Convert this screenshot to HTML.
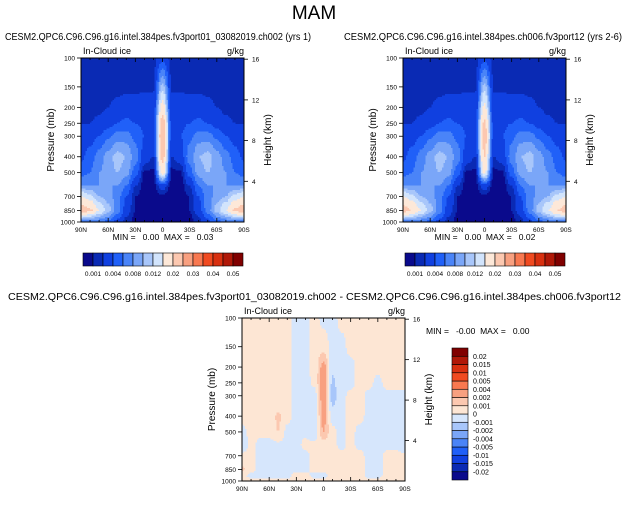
<!DOCTYPE html>
<html><head><meta charset="utf-8"><style>
html,body{margin:0;padding:0;background:#fff;}
svg text{font-family:"Liberation Sans",sans-serif;fill:#000;white-space:pre;}
</style></head><body>
<svg id="chart" width="628" height="500" xmlns="http://www.w3.org/2000/svg">
<text x="314" y="19" font-size="19" text-anchor="middle">MAM</text>
<text x="5" y="40" font-size="10" textLength="306" lengthAdjust="spacingAndGlyphs">CESM2.QPC6.C96.C96.g16.intel.384pes.fv3port01_03082019.ch002 (yrs 1)</text>
<text x="344" y="40" font-size="10" textLength="278" lengthAdjust="spacingAndGlyphs">CESM2.QPC6.C96.C96.g16.intel.384pes.ch006.fv3port12 (yrs 2-6)</text>
<text x="8" y="300" font-size="10" textLength="613" lengthAdjust="spacingAndGlyphs">CESM2.QPC6.C96.C96.g16.intel.384pes.fv3port01_03082019.ch002 - CESM2.QPC6.C96.C96.g16.intel.384pes.ch006.fv3port12</text>
</svg>
<script>
const latLabels = ["90N","60N","30N","0","30S","60S","90S"];
const pLevels = [100,150,200,250,300,400,500,600,700,850,925,1000];
const pTicks = [100,150,200,250,300,400,500,700,850,1000];
const hTicks = [16,12,8,4];
const boundsAbs = [0.001,0.002,0.004,0.006,0.008,0.01,0.012,0.015,0.02,0.025,0.03,0.035,0.04,0.045,0.05];
const colorsAbs = ["#0a0a8c","#0a2ab4","#1040e0","#2060f8","#4a84f8","#7aa6f8","#a8c6fa","#d2e4fc","#fde8d8","#fcc8b0","#f8a080","#f87850","#f04a20","#d83010","#b01808","#800000"];
const labelsAbs = ["0.001","0.004","0.008","0.012","0.02","0.03","0.04","0.05"];
const boundsDiff = [-0.02,-0.015,-0.01,-0.005,-0.004,-0.002,-0.001,0,0.001,0.002,0.004,0.005,0.01,0.015,0.02];
const colorsDiff = ["#0a0a8c","#0a2ab4","#1040e0","#2060f8","#4a84f8","#7aa6f8","#a8c6fa","#d6e6fc","#fde6d4","#fcc8b0","#f8a080","#f87850","#f04a20","#d83010","#b01808","#800000"];
const labelsDiff = ["-0.02","-0.015","-0.01","-0.005","-0.004","-0.002","-0.001","0","0.001","0.002","0.004","0.005","0.01","0.015","0.02"];
// units: 1e-3 g/kg, rows = pLevels, cols = 90N..90S every 10 deg
const field1 = [
[1.5,1.5,1.5,1.5,1.5,1.5,1.5,1.5,1.5,3,1.5,1.5,1.5,1.5,1.5,1.5,1.5,1.5,1.5],
[1.5,1.5,1.5,1.5,1.5,1.5,1.5,1.6,1.8,11,1.8,1.6,1.5,1.5,1.5,1.5,1.5,1.5,1.5],
[1.5,1.5,1.5,2,2.5,3,3,3,2.5,17,2.5,3,3,3,2.5,2,1.5,1.5,1.5],
[2,2,2.5,3,4,4.5,4,3.5,3,23,3,3.5,4,4.5,4,3,2.5,2,2],
[2.5,3,4,5.5,7,7,5.5,4,3,25,3,4,5.5,7,7,5.5,4,3,2.5],
[3.5,5,7,9,11,10,7,3,2,22,2,3,7,10,11,9,7,5,3.5],
[5,6,8,9,10,9,5,0.8,0.6,17,0.6,0.8,5,9,10,9,8,6,5],
[8,8,8,8,8,6,2,0.5,0.5,3,0.5,0.5,2,6,8,8,8,8,8],
[15,13,10,9,7,4,1,0.5,0.5,0.5,0.5,0.5,1,4,7,9,10,13,15],
[24,21,15,11,7,3,1,0.5,0.5,0.5,0.5,0.5,1,3,7,11,15,21,24],
[14,12,10,8,5,2,0.8,0.5,0.5,0.5,0.5,0.5,0.8,2,5,8,10,12,14],
[6,6,6,5,3,1.5,0.5,0.5,0.5,0.5,0.5,0.5,0.5,1.5,3,5,6,6,6]];
const field2 = [
[1.5,1.5,1.5,1.5,1.5,1.5,1.5,1.5,1.5,3,1.5,1.5,1.5,1.5,1.5,1.5,1.5,1.5,1.5],
[1.5,1.5,1.5,1.5,1.5,1.5,1.5,1.6,1.8,11,1.8,1.6,1.5,1.5,1.5,1.5,1.5,1.5,1.5],
[1.5,1.5,1.5,2,2.5,3,3,3,2.5,16,2.5,3,3,3,2.5,2,1.5,1.5,1.5],
[2,2,2.5,3,4,4.5,4,3.5,3,21,3,3.5,4,4.5,4,3,2.5,2,2],
[2.5,3,4,5.5,7,7,5.5,4,3,23,3,4,5.5,7,7,5.5,4,3,2.5],
[3.5,5,7,9,11,10,7,3,2,20,2,3,7,10,11,9,7,5,3.5],
[5,6,8,9,10,9,5,0.8,0.6,16,0.6,0.8,5,9,10,9,8,6,5],
[8,8,8,8,8,6,2,0.5,0.5,3,0.5,0.5,2,6,8,8,8,8,8],
[15,13,10,9,7,4,1,0.5,0.5,0.5,0.5,0.5,1,4,7,9,10,13,15],
[23,20,15,11,7,3,1,0.5,0.5,0.5,0.5,0.5,1,3,7,11,15,20,23],
[14,12,10,8,5,2,0.8,0.5,0.5,0.5,0.5,0.5,0.8,2,5,8,10,12,14],
[6,6,6,5,3,1.5,0.5,0.5,0.5,0.5,0.5,0.5,0.5,1.5,3,5,6,6,6]];
// units: 1e-4 g/kg
const fieldDiff = [
[3,3,3,3,3,3,-3,-3,3,-3,-3,3,3,3,3,3,3,3,3],
[3,3,3,3,3,3,-3,-3,3,5,-3,-3,3,3,3,3,3,3,3],
[3,3,3,3,3,3,-3,-3,3,25,-8,-3,-3,3,3,3,3,3,3],
[3,3,3,3,3,3,-3,-3,2,30,-12,-3,-3,3,3,-3,3,3,3],
[3,3,3,3,3,3,-3,-3,-5,28,-15,-3,3,3,-3,-3,-3,-3,-3],
[3,3,3,3,12,3,-3,-3,-8,25,-5,-3,3,3,-3,-3,-3,-3,-3],
[-3,3,3,3,10,-3,-3,-3,-8,20,3,-3,3,-3,-3,-3,-3,-3,-3],
[-8,3,-3,-3,-3,-3,-3,3,3,3,3,-3,3,-3,-3,-3,-3,-3,-8],
[3,3,-3,-3,-3,-3,-8,-3,3,3,3,3,3,3,-3,-3,3,3,3],
[12,3,-3,-3,-3,-3,-3,-3,3,3,3,3,3,3,-3,-3,3,3,3],
[3,-3,-3,-3,-3,-3,3,3,-3,-3,3,3,3,3,-3,-3,3,3,3],
[3,3,3,3,3,3,3,3,3,3,3,3,3,3,3,3,3,10,3]];
const stats1 = ["0.00","0.03"], stats2 = ["0.00","0.02"], stats3 = ["-0.00","0.00"];

const NS="http://www.w3.org/2000/svg";
const svg=document.getElementById('chart');
function mk(tag,attrs,parent){const e=document.createElementNS(NS,tag);for(const k in attrs)e.setAttribute(k,attrs[k]);(parent||svg).appendChild(e);return e;}
function txt(x,y,s,size,anchor,parent,extra){const t=mk('text',Object.assign({x:x,y:y,'font-size':size,'text-anchor':anchor||'start'},extra||{}),parent);t.textContent=s;return t;}

function drawPanel(P){
  const g=mk('g',{});
  
  
  const yOf=p=>P.y0+(Math.log10(p)-2)*P.h;
  const lp=pLevels.map(p=>Math.log10(p));
  function val(u,lg){
    u=Math.max(0,Math.min(18,u));
    let i=Math.min(17,Math.floor(u)),fu=u-i;
    fu=fu*fu*(3-2*fu);
    let r=0;while(r<pLevels.length-2&&lg>lp[r+1])r++;
    let fr=Math.max(0,Math.min(1,(lg-lp[r])/(lp[r+1]-lp[r])));
    const d=P.data;
    const a=d[r][i]*(1-fu)+d[r][i+1]*fu, b=d[r+1][i]*(1-fu)+d[r+1][i+1]*fu;
    return (a*(1-fr)+b*fr)*P.scale;
  }
  function cidx(v){let k=0;while(k<P.bounds.length&&v>=P.bounds[k])k++;return k;}
  const step=1.5;
  const cells=mk('g',{'shape-rendering':'crispEdges'},g);
  
  
  for(let y=0;y<P.h;y+=step){
    const lg=2+Math.min(1,(y+step/2)/P.h);
    const hh=Math.min(step,P.h-y);
    let runStart=0,runC=-1;
    for(let x=0;;x+=step){
      const done=x>=P.w;
      const c=done?-2:cidx(val((x+step/2)/P.w*18,lg));
      if(c!==runC){
        if(runC>=0){const r=mk('rect',{x:P.x0+runStart,y:P.y0+y,width:Math.min(x,P.w)-runStart+0.6,height:hh+0.6,fill:P.colors[runC]},cells);
          
          }
        runStart=x;runC=c;
      }
      if(done)break;
    }
  }
  const fr=mk('rect',{x:P.x0,y:P.y0,width:P.w,height:P.h,fill:'none',stroke:'#000','stroke-width':1},g);
  
  
  for(let k=0;k<=18;k++){
    const x=P.x0+k/18*P.w, L=(k%3===0)?4:2;
    mk('line',{x1:x,x2:x,y1:P.y0+P.h,y2:P.y0+P.h-L,stroke:'#000','stroke-width':0.8},g);
    mk('line',{x1:x,x2:x,y1:P.y0,y2:P.y0+L,stroke:'#000','stroke-width':0.8},g);
  }
  latLabels.forEach((s,k)=>{const t=txt(P.x0+k/6*P.w,P.y0+P.h+10,s,6.5,'middle',g);
    });
  pTicks.forEach(p=>{const y=yOf(p);
    mk('line',{x1:P.x0,x2:P.x0-4,y1:y,y2:y,stroke:'#000','stroke-width':0.8},g);
    const t=txt(P.x0-6,y+2.5,String(p),6.5,'end',g);
    });
  hTicks.forEach(hk=>{const p=1000*Math.exp(-hk/7);const y=yOf(p);
    mk('line',{x1:P.x0+P.w,x2:P.x0+P.w+4,y1:y,y2:y,stroke:'#000','stroke-width':0.8},g);
    const t=txt(P.x0+P.w+8,y+2.5,String(hk),6.5,'start',g);
    });
  const a=txt(P.x0+2,P.y0-4,'In-Cloud ice',9,'start',g);
  const b=txt(P.x0+P.w,P.y0-4,'g/kg',9,'end',g);
  const yl=txt(0,0,'Pressure (mb)',10,'middle',g,{transform:`translate(${P.x0-27},${P.y0+P.h/2}) rotate(-90)`});
  
  const yr=txt(0,0,'Height (km)',10,'middle',g,{transform:`translate(${P.x0+P.w+27},${P.y0+P.h/2}) rotate(-90)`});
  
  const st=txt(P.sx,P.sy,`MIN =   ${P.stats[0]}  MAX =   ${P.stats[1]}`,8.5,P.sa,g);
  
}
function hbar(x0,y0,w,h,colors,labels){
  const g=mk('g',{});
  
  
  const bw=w/colors.length;
  colors.forEach((c,k)=>{const r=mk('rect',{x:x0+k*bw,y:y0,width:bw,height:h,fill:c,stroke:'#000','stroke-width':0.6},g);
    });
  labels.forEach((s,k)=>{const t=txt(x0+(2*k+1)*bw,y0+h+10,s,6.5,'middle',g);
    });
}
function vbar(x0,y0,w,h,colors,labels){
  const g=mk('g',{});
  
  
  const bh=h/colors.length;
  colors.forEach((c,k)=>{const r=mk('rect',{x:x0,y:y0+h-(k+1)*bh,width:w,height:bh,fill:c,stroke:'#000','stroke-width':0.6},g);
    });
  labels.forEach((s,k)=>{const t=txt(x0+w+5,y0+h-(k+1)*bh+2.5,s,7,'start',g);
    });
}
drawPanel({name:'panel-model1',x0:81,y0:58,w:163,h:164,data:field1,scale:0.001,bounds:boundsAbs,colors:colorsAbs,stats:stats1,sx:163,sy:240,sa:'middle'});
drawPanel({name:'panel-model2',x0:403,y0:58,w:163,h:164,data:field2,scale:0.001,bounds:boundsAbs,colors:colorsAbs,stats:stats2,sx:485,sy:240,sa:'middle'});
drawPanel({name:'panel-difference',x0:242,y0:318,w:163,h:163,data:fieldDiff,scale:0.0001,bounds:boundsDiff,colors:colorsDiff,stats:stats3,sx:426,sy:334,sa:'start'});
hbar(83,253,160,13,colorsAbs,labelsAbs);
hbar(405,253,160,13,colorsAbs,labelsAbs);
vbar(452,348,16,132,colorsDiff,labelsDiff);
</script>
</body></html>
